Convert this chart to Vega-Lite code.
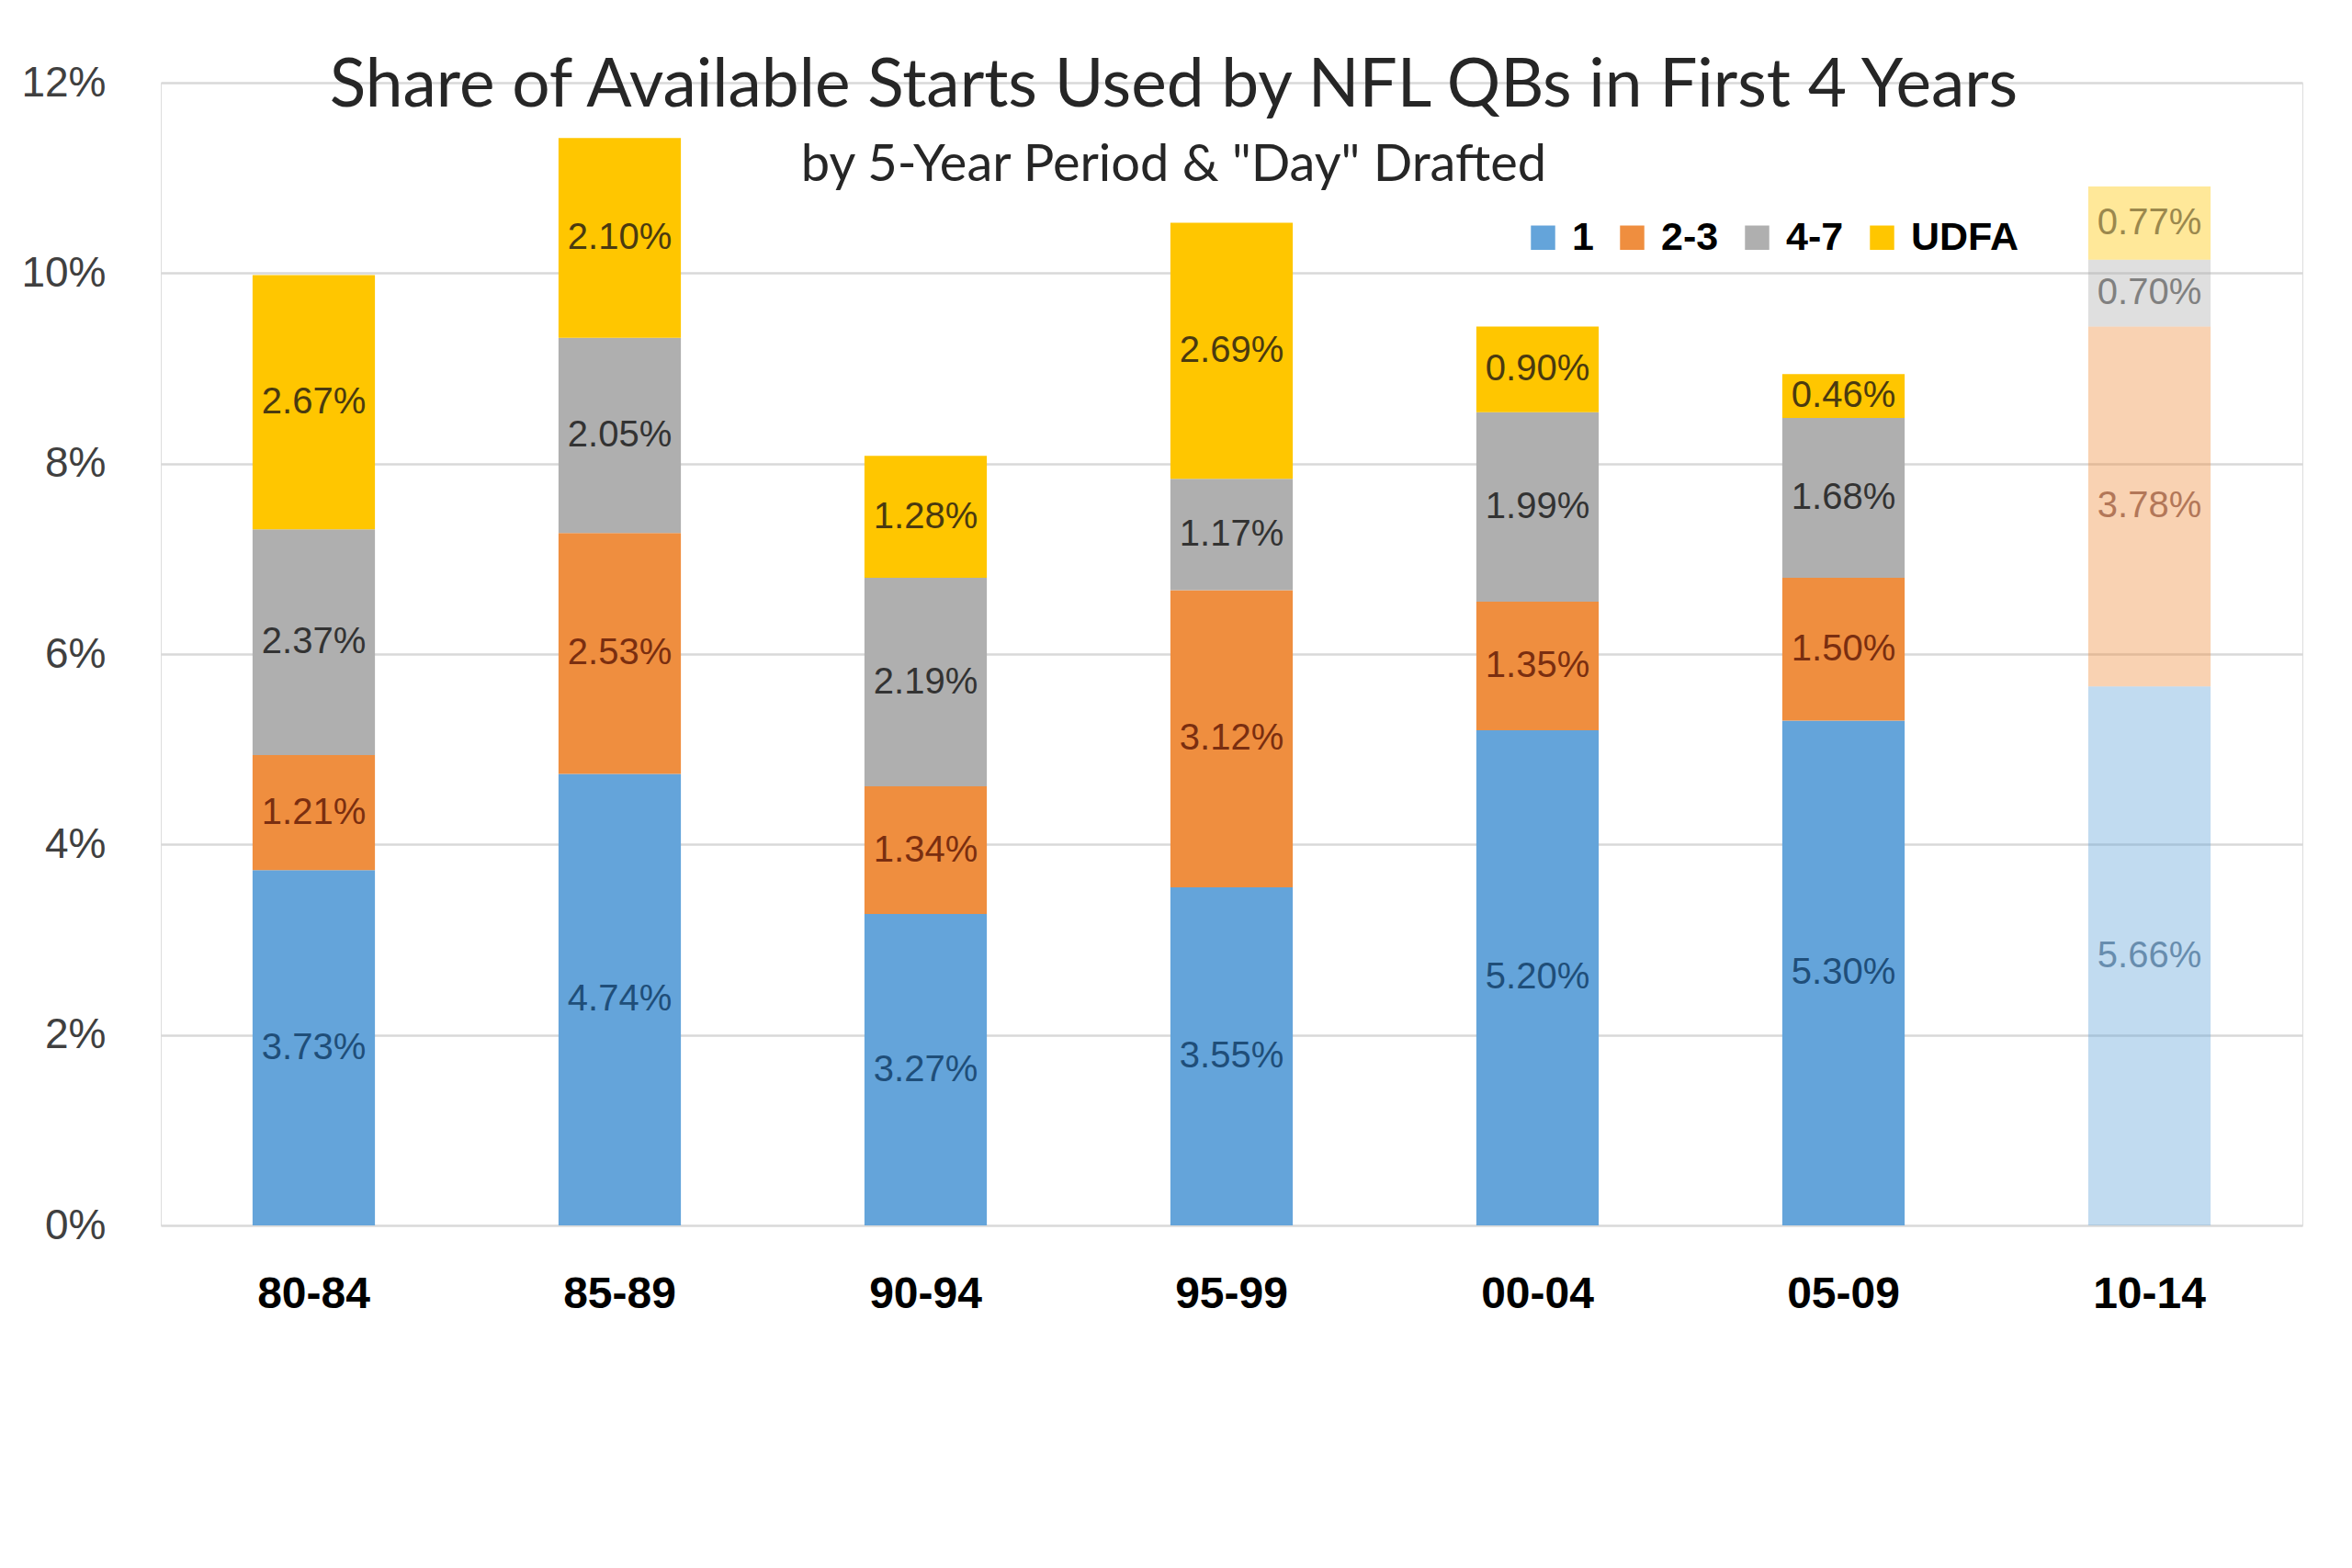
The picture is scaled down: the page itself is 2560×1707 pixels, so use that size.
{
  "$schema": "https://vega.github.io/schema/vega-lite/v6.json",
  "width": 2331,
  "height": 1244,
  "autosize": {"type": "none"},
  "padding": {"left": 175, "top": 90, "right": 54, "bottom": 373},
  "background": "white",
  "title": {
    "text": "Share of Available Starts Used by NFL QBs in First 4 Years",
    "subtitle": "by 5-Year Period & \"Day\"  Drafted",
    "anchor": "middle",
    "dx": -63,
    "offset": -141,
    "font": "Lato",
    "fontSize": 73,
    "fontWeight": "normal",
    "color": "#262626",
    "subtitleFont": "Lato",
    "subtitleFontSize": 56,
    "subtitleColor": "#262626",
    "subtitlePadding": 22
  },
  "data": {
    "values": [
      {"period": "80-84", "draft": "1", "share": 0.0373},
      {"period": "80-84", "draft": "2-3", "share": 0.0121},
      {"period": "80-84", "draft": "4-7", "share": 0.0237},
      {"period": "80-84", "draft": "UDFA", "share": 0.0267},
      {"period": "85-89", "draft": "1", "share": 0.0474},
      {"period": "85-89", "draft": "2-3", "share": 0.0253},
      {"period": "85-89", "draft": "4-7", "share": 0.0205},
      {"period": "85-89", "draft": "UDFA", "share": 0.0210},
      {"period": "90-94", "draft": "1", "share": 0.0327},
      {"period": "90-94", "draft": "2-3", "share": 0.0134},
      {"period": "90-94", "draft": "4-7", "share": 0.0219},
      {"period": "90-94", "draft": "UDFA", "share": 0.0128},
      {"period": "95-99", "draft": "1", "share": 0.0355},
      {"period": "95-99", "draft": "2-3", "share": 0.0312},
      {"period": "95-99", "draft": "4-7", "share": 0.0117},
      {"period": "95-99", "draft": "UDFA", "share": 0.0269},
      {"period": "00-04", "draft": "1", "share": 0.0520},
      {"period": "00-04", "draft": "2-3", "share": 0.0135},
      {"period": "00-04", "draft": "4-7", "share": 0.0199},
      {"period": "00-04", "draft": "UDFA", "share": 0.0090},
      {"period": "05-09", "draft": "1", "share": 0.0530},
      {"period": "05-09", "draft": "2-3", "share": 0.0150},
      {"period": "05-09", "draft": "4-7", "share": 0.0168},
      {"period": "05-09", "draft": "UDFA", "share": 0.0046},
      {"period": "10-14", "draft": "1", "share": 0.0566},
      {"period": "10-14", "draft": "2-3", "share": 0.0378},
      {"period": "10-14", "draft": "4-7", "share": 0.0070},
      {"period": "10-14", "draft": "UDFA", "share": 0.0077}
    ]
  },
  "transform": [
    {"stack": "share", "groupby": ["period"], "sort": [{"field": "draft", "order": "ascending"}], "as": ["s0", "s1"]},
    {"calculate": "(datum.s0 + datum.s1) / 2", "as": "mid"}
  ],
  "encoding": {
    "x": {
      "field": "period",
      "type": "nominal",
      "sort": ["80-84", "85-89", "90-94", "95-99", "00-04", "05-09", "10-14"],
      "scale": {"paddingInner": 0.6, "paddingOuter": 0.3},
      "axis": {
        "title": null,
        "labelAngle": 0,
        "domain": false,
        "ticks": false,
        "labelFont": "Liberation Sans",
        "labelFontWeight": "bold",
        "labelFontSize": 48,
        "labelColor": "#000000",
        "labelPadding": 51,
        "labelBaseline": "top"
      }
    }
  },
  "layer": [
    {
      "mark": {"type": "bar"},
      "encoding": {
        "y": {
          "field": "s0",
          "type": "quantitative",
          "scale": {"domain": [0, 0.12], "nice": false},
          "axis": {
            "title": null,
            "format": ".0%",
            "values": [0, 0.02, 0.04, 0.06, 0.08, 0.1, 0.12],
            "domain": false,
            "ticks": false,
            "grid": true,
            "gridColor": "#d9d9d9",
            "gridWidth": 2.5,
            "labelFont": "Liberation Sans",
            "labelFontSize": 46,
            "labelColor": "#404040",
            "labelPadding": 60
          }
        },
        "y2": {"field": "s1"},
        "color": {
          "field": "draft",
          "type": "nominal",
          "scale": {
            "domain": ["1", "2-3", "4-7", "UDFA"],
            "range": ["#64A4DA", "#EF8E3F", "#AFAFAF", "#FFC600"]
          },
          "legend": {
            "title": null,
            "orient": "none",
            "legendX": 1483,
            "legendY": 147,
            "direction": "horizontal",
            "symbolType": "square",
            "symbolSize": 700,
            "symbolStrokeWidth": 0,
            "labelFont": "Liberation Sans",
            "labelFontWeight": "bold",
            "labelFontSize": 43,
            "labelColor": "#000000",
            "labelOffset": 10,
            "columnPadding": 20
          }
        },
        "opacity": {"condition": {"test": "datum.period == '10-14'", "value": 0.4}, "value": 1}
      }
    },
    {
      "mark": {"type": "text", "font": "Liberation Sans", "fontSize": 40, "baseline": "middle"},
      "encoding": {
        "y": {"field": "mid", "type": "quantitative"},
        "text": {"field": "share", "type": "quantitative", "format": ".2%"},
        "fill": {
          "field": "draft",
          "type": "nominal",
          "scale": {
            "domain": ["1", "2-3", "4-7", "UDFA"],
            "range": ["#1F4E79", "#7A2E10", "#333333", "#4A3A10"]
          },
          "legend": null
        },
        "opacity": {"condition": {"test": "datum.period == '10-14'", "value": 0.55}, "value": 1}
      }
    }
  ]
}
